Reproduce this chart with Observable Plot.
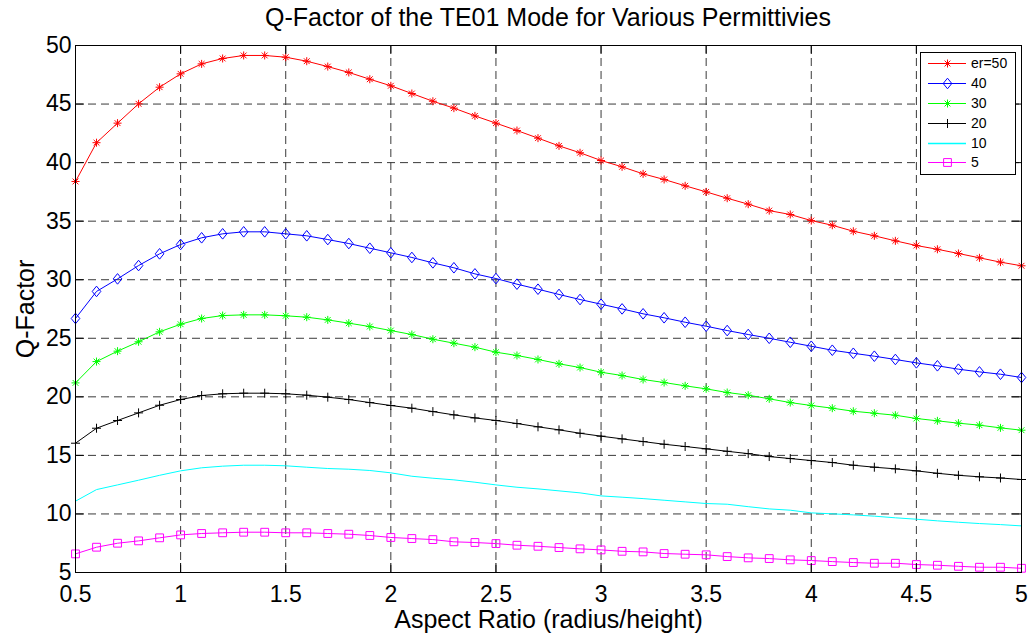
<!DOCTYPE html>
<html><head><meta charset="utf-8">
<script src="https://cdn.jsdelivr.net/npm/d3@7"></script>
<script src="https://cdn.jsdelivr.net/npm/@observablehq/plot@0.6"></script>
<style>
body{margin:0;background:#fff;font-family:"Liberation Sans",Arial,sans-serif;}
#wrap{position:relative;width:1030px;height:637px;overflow:hidden;}
#title{height:36px;line-height:34px;padding-left:75px;padding-right:9px;text-align:center;font-size:25px;color:#000;box-sizing:border-box;width:1030px;white-space:nowrap;}
#legend{position:absolute;left:920px;top:52px;}
#chart svg{display:block;}
</style></head><body>
<div id="wrap"><div id="title"></div><div id="chart"></div><svg id="legend" width="97" height="124"></svg></div>
<script>
const aspect = [0.5,0.6,0.7,0.8,0.9,1.0,1.1,1.2,1.3,1.4,1.5,1.6,1.7,1.8,1.9,2.0,2.1,2.2,2.3,2.4,2.5,2.6,2.7,2.8,2.9,3.0,3.1,3.2,3.3,3.4,3.5,3.6,3.7,3.8,3.9,4.0,4.1,4.2,4.3,4.4,4.5,4.6,4.7,4.8,4.9,5.0];
const er50 = [38.39,41.70,43.37,45.02,46.44,47.58,48.43,48.89,49.15,49.15,49.00,48.66,48.20,47.70,47.12,46.56,45.90,45.24,44.65,43.99,43.37,42.74,42.09,41.43,40.84,40.18,39.64,39.04,38.56,38.02,37.50,36.96,36.45,35.90,35.57,35.05,34.65,34.14,33.75,33.32,32.92,32.60,32.24,31.87,31.50,31.19];
const er40 = [26.69,29.00,30.07,31.21,32.21,33.01,33.58,33.92,34.09,34.09,33.92,33.75,33.43,33.09,32.69,32.30,31.90,31.44,31.02,30.50,30.10,29.62,29.19,28.74,28.31,27.91,27.51,27.09,26.75,26.37,26.03,25.66,25.32,25.00,24.66,24.32,23.98,23.72,23.47,23.19,22.90,22.65,22.36,22.13,21.93,21.65];
const er30 = [21.19,23.01,23.90,24.70,25.55,26.20,26.69,26.94,27.00,27.00,26.92,26.80,26.57,26.29,26.00,25.66,25.32,24.92,24.58,24.24,23.81,23.53,23.19,22.82,22.50,22.10,21.82,21.48,21.22,20.94,20.68,20.37,20.14,19.83,19.51,19.26,19.03,18.77,18.60,18.43,18.15,17.95,17.75,17.58,17.35,17.15];
const er20 = [16.04,17.32,17.98,18.63,19.28,19.77,20.11,20.26,20.31,20.31,20.26,20.14,19.97,19.77,19.51,19.26,19.03,18.74,18.46,18.20,17.98,17.72,17.44,17.18,16.89,16.64,16.41,16.18,15.95,15.76,15.56,15.35,15.15,14.90,14.73,14.56,14.39,14.16,13.99,13.85,13.68,13.47,13.30,13.17,13.07,12.94];
const er10 = [11.09,12.08,12.48,12.88,13.30,13.68,13.94,14.08,14.16,14.16,14.11,13.99,13.88,13.82,13.71,13.51,13.22,13.05,12.91,12.71,12.48,12.28,12.14,11.97,11.80,11.54,11.43,11.31,11.17,11.03,10.89,10.83,10.62,10.43,10.32,10.09,10.01,9.92,9.81,9.67,9.55,9.41,9.29,9.18,9.09,8.98];
const er5 = [6.59,7.16,7.50,7.70,7.96,8.21,8.33,8.39,8.44,8.44,8.39,8.39,8.33,8.27,8.16,7.99,7.90,7.81,7.62,7.56,7.47,7.33,7.24,7.13,7.02,6.93,6.81,6.76,6.62,6.56,6.51,6.36,6.25,6.19,6.08,6.02,5.93,5.85,5.79,5.79,5.68,5.62,5.53,5.45,5.45,5.36];

const seriesLabels = ["er=50","40","30","20","10","5"];
const xTicks = [0.5,1,1.5,2,2.5,3,3.5,4,4.5,5];
const xTickLabels = ["0.5","1","1.5","2","2.5","3","3.5","4","4.5","5"];
const yTicks = [5,10,15,20,25,30,35,40,45,50];
const yTickLabels = ["5","10","15","20","25","30","35","40","45","50"];
const titleText = "Q-Factor of the TE01 Mode for Various Permittivies";
const xLabel = "Aspect Ratio (radius/height)";
const yLabel = "Q-Factor";

// MATLAB-like marker shapes
const asterisk = {draw(c){const r=4,d=2.9;c.moveTo(-r,0);c.lineTo(r,0);c.moveTo(0,-r);c.lineTo(0,r);c.moveTo(-d,-d);c.lineTo(d,d);c.moveTo(-d,d);c.lineTo(d,-d);}};
const plus = {draw(c){const r=4.5;c.moveTo(-r,0);c.lineTo(r,0);c.moveTo(0,-r);c.lineTo(0,r);}};
const diamond = {draw(c){const w=4.3,h=5.3;c.moveTo(0,-h);c.lineTo(w,0);c.lineTo(0,h);c.lineTo(-w,0);c.closePath();}};
const square = {draw(c){const s=3.9;c.moveTo(-s,-s);c.lineTo(s,-s);c.lineTo(s,s);c.lineTo(-s,s);c.closePath();}};

const seriesValues = [er50, er40, er30, er20, er10, er5];
const seriesColors = ["#ff0000","#0000ff","#00ff00","#000000","#00ffff","#ff00ff"];
const seriesSymbols = [asterisk, diamond, asterisk, plus, null, square];

const W = 1030, H = 601, mt = 9, mb = 65, ml = 75, mr = 9;
const fh = H - mt - mb, fw = W - ml - mr;
const tick = 9;
const gridColor = "#3a3a3a";

const seriesMarks = seriesValues.flatMap((vals, k) => {
  const rows = vals.map((v, i) => ({x: aspect[i], y: v}));
  const m = [Plot.line(rows, {x: "x", y: "y", stroke: seriesColors[k], strokeWidth: 1})];
  if (seriesSymbols[k]) m.push(Plot.dot(rows, {x: "x", y: "y", symbol: seriesSymbols[k], r: 4, stroke: seriesColors[k], fill: "none", strokeWidth: 1}));
  return m;
});

const chart = Plot.plot({
  width: W, height: H, marginTop: mt, marginBottom: mb, marginLeft: ml, marginRight: mr,
  style: {fontFamily: "'Liberation Sans', Arial, sans-serif", background: "white", color: "black", overflow: "visible"},
  x: {domain: [0.5, 5]},
  y: {domain: [5, 50]},
  marks: [
    Plot.ruleX(xTicks, {stroke: gridColor, strokeDasharray: "8,5", strokeWidth: 1}),
    Plot.ruleY(yTicks, {stroke: gridColor, strokeDasharray: "8,5", strokeWidth: 1}),
    ...seriesMarks,
    Plot.ruleX(xTicks, {stroke: "black", insetTop: fh - tick}),
    Plot.ruleX(xTicks, {stroke: "black", insetBottom: fh - tick}),
    Plot.ruleY(yTicks, {stroke: "black", insetRight: fw - tick}),
    Plot.ruleY(yTicks, {stroke: "black", insetLeft: fw - tick}),
    Plot.frame({stroke: "black", strokeWidth: 1}),
    Plot.axisX(xTicks, {tickSize: 0, tickPadding: 13, fontSize: 23, label: null, tickFormat: d => xTickLabels[xTicks.indexOf(d)]}),
    Plot.axisY(yTicks, {tickSize: 0, tickPadding: 4, fontSize: 23, label: null, tickFormat: d => yTickLabels[yTicks.indexOf(d)]}),
    Plot.text([xLabel], {text: d => d, frameAnchor: "bottom", lineAnchor: "middle", textAnchor: "middle", dy: 47, fontSize: 25}),
    Plot.text([yLabel], {text: d => d, frameAnchor: "left", lineAnchor: "middle", textAnchor: "middle", dx: -50, rotate: -90, fontSize: 25})
  ]
});
document.getElementById("chart").appendChild(chart);
document.getElementById("title").textContent = titleText;

// Legend box
const lg = d3.select("#legend");
lg.append("rect").attr("x", 0.5).attr("y", 0.5).attr("width", 95).attr("height", 122).attr("fill", "white").attr("stroke", "black").attr("stroke-width", 1);
const rowY = [11, 31, 51, 71, 91, 110];
seriesLabels.forEach((lab, k) => {
  const y = rowY[k] + 0.5;
  lg.append("line").attr("x1", 8).attr("x2", 46).attr("y1", y).attr("y2", y).attr("stroke", seriesColors[k]).attr("stroke-width", k === 4 ? 1.5 : 1);
  if (seriesSymbols[k]) {
    const p = d3.path(); seriesSymbols[k].draw(p);
    lg.append("path").attr("d", p.toString()).attr("transform", `translate(27.5,${y})`).attr("fill", "none").attr("stroke", seriesColors[k]).attr("stroke-width", 1);
  }
  lg.append("text").attr("x", 51).attr("y", y).attr("dy", "0.35em").attr("font-size", 14).attr("font-family", "'Liberation Sans', Arial, sans-serif").text(lab);
});
</script>
</body></html>
